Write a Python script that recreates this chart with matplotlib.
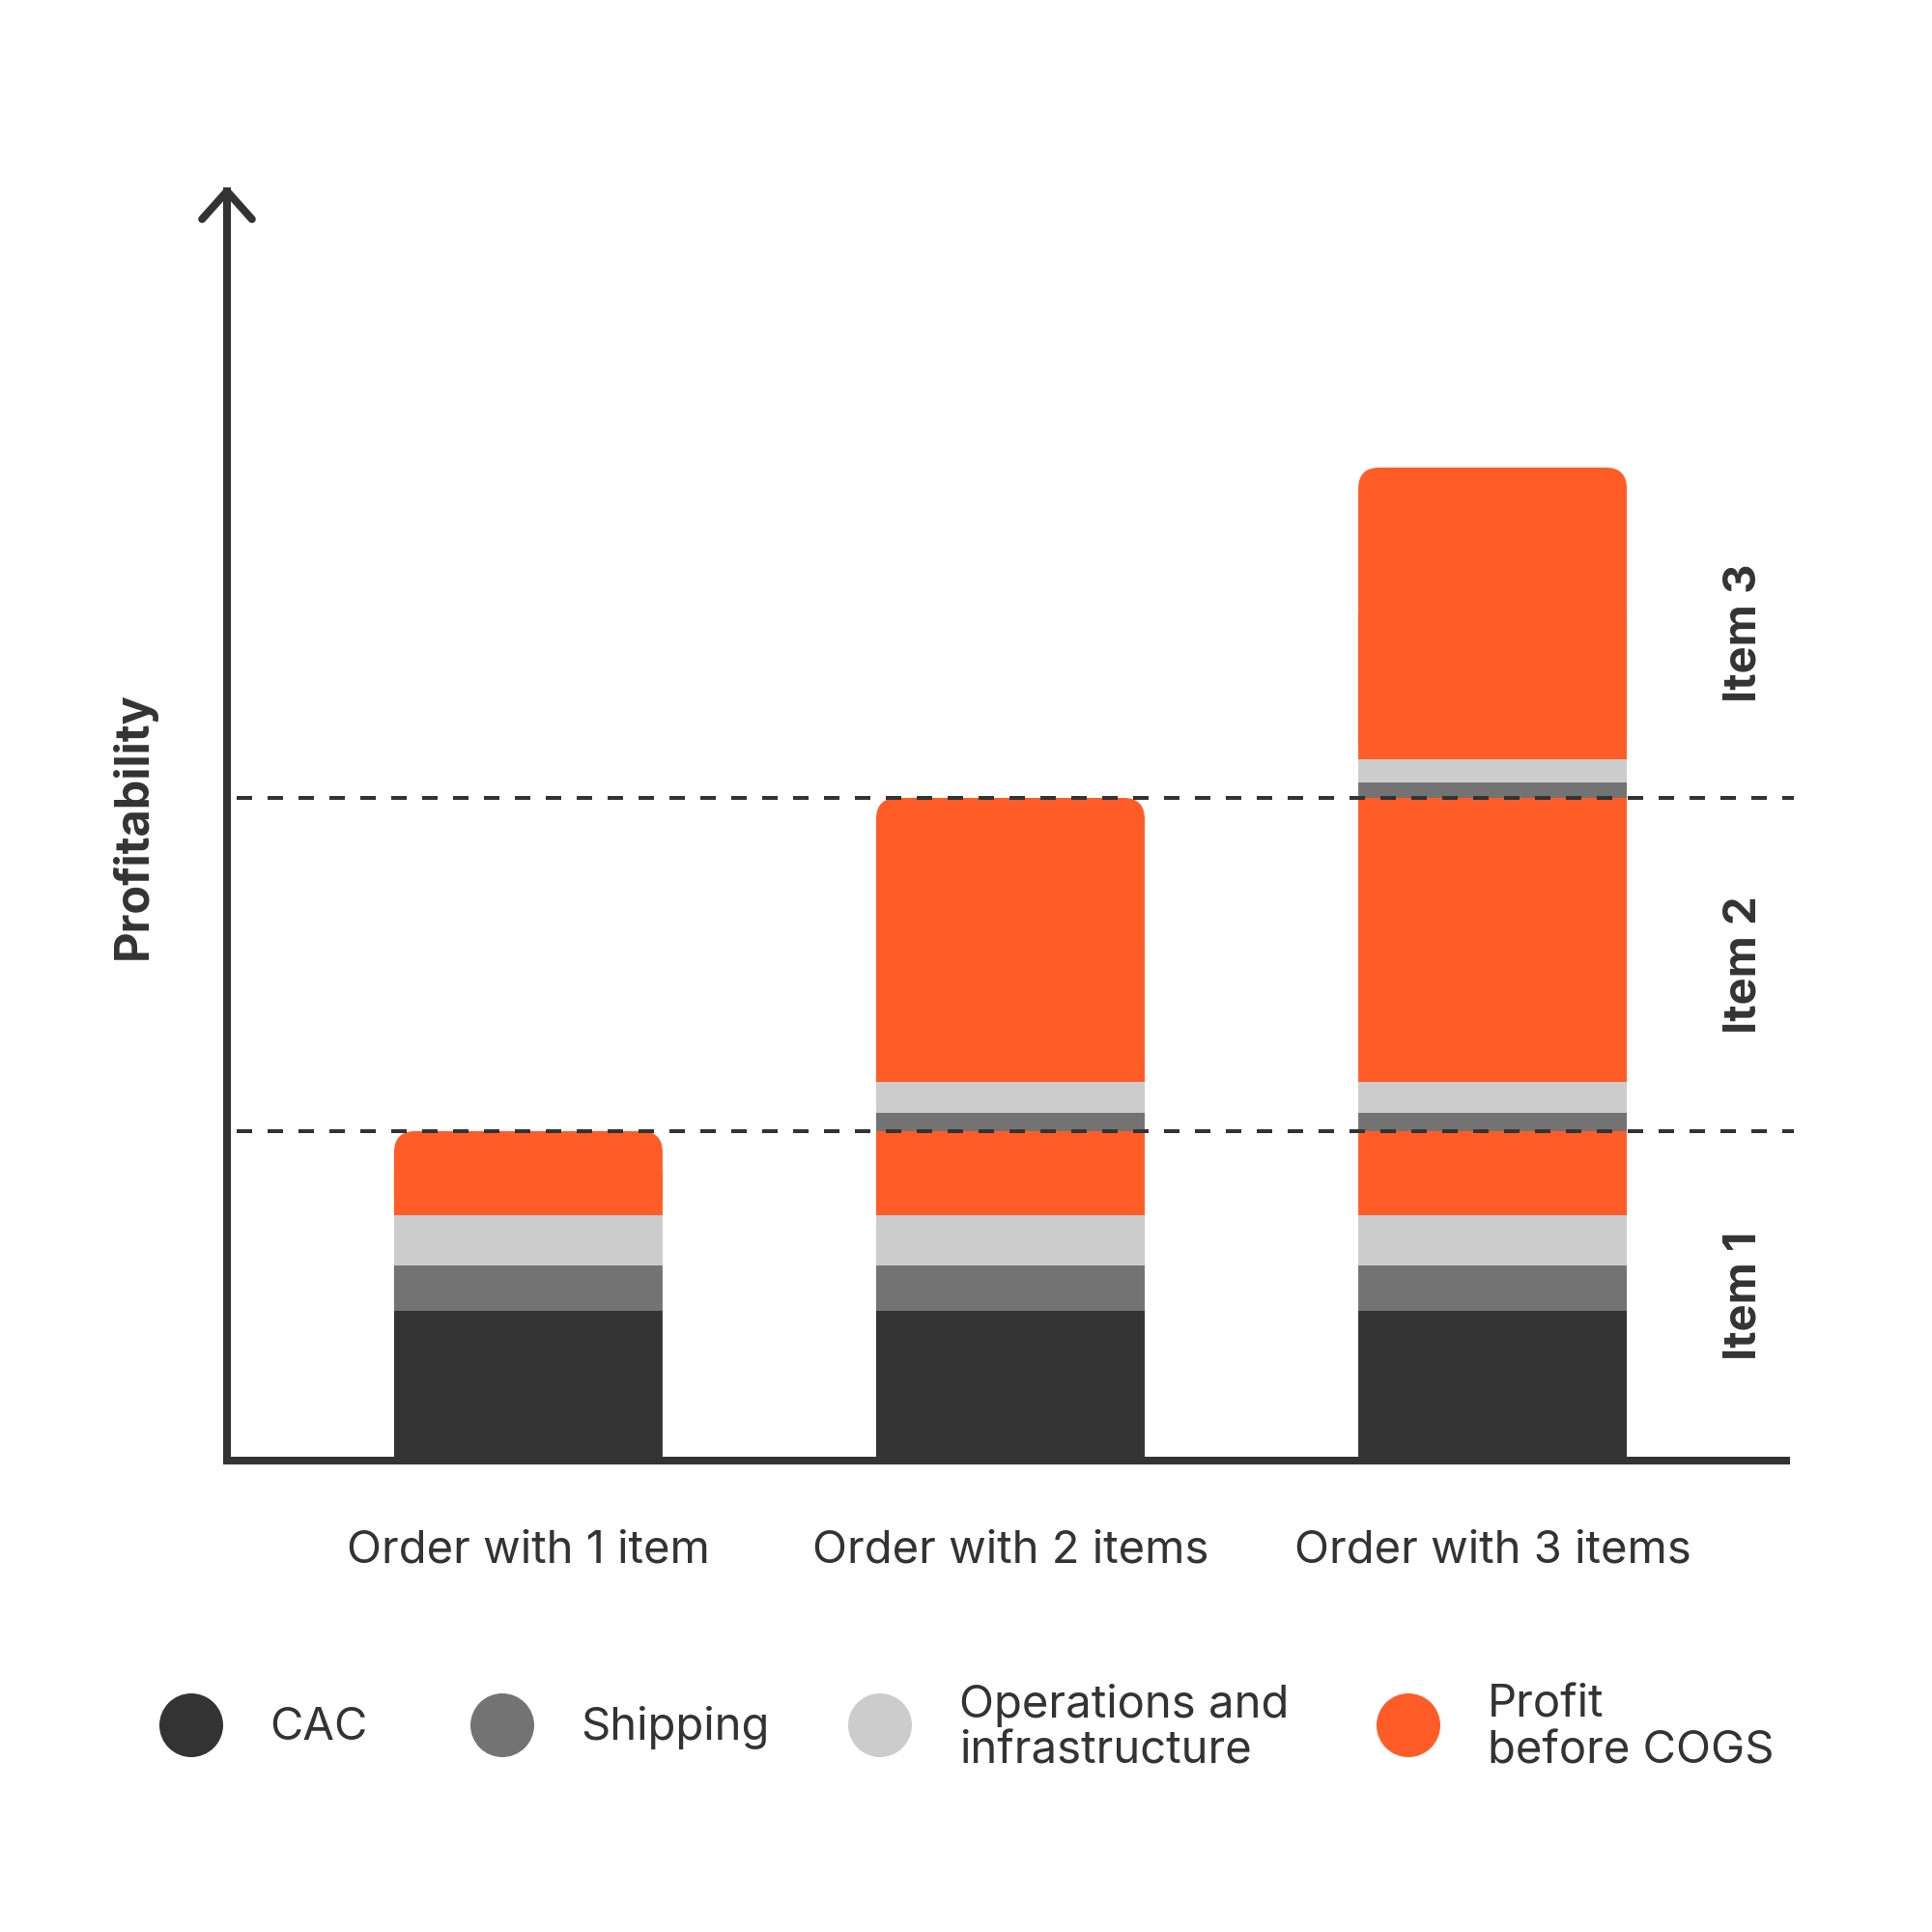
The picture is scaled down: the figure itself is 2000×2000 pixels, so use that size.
#
# Profitability per order: stacked bars, one block per item
#
import matplotlib.pyplot as plt
from matplotlib.patches import FancyBboxPatch, Circle
from matplotlib.transforms import blended_transform_factory

plt.rcParams["font.family"] = ["Inter", "DejaVu Sans"]

categories = ["Order with 1 item", "Order with 2 items", "Order with 3 items"]
segment_names = ["CAC", "Shipping", "Operations and\ninfrastructure", "Profit\nbefore COGS"]
colors = ["#333333", "#737373", "#cccccc", "#ff5c28"]

# segments per item: CAC, shipping, operations, profit
item1 = [155, 47, 52, 87]
item2 = [0, 19, 32, 294]
item3 = [0, 16, 24, 302]
items = [item1, item2, item3]
items_per_order = [1, 2, 3]
item_labels = ["Item 1", "Item 2", "Item 3"]

text_color = "#333333"
W = 2000.0

fig = plt.figure(figsize=(10, 10), dpi=200)
ax = fig.add_axes([235 / W, 488 / W, 1614 / W, 1314 / W])

bar_width = 0.557
radius_x = 0.044
aspect = 499

for i, n in enumerate(items_per_order):
    bottom = 0
    pieces = []
    for k in range(n):
        for j, v in enumerate(items[k]):
            if v > 0:
                pieces.append((j, v))
    for p, (j, v) in enumerate(pieces):
        if p == len(pieces) - 1:
            # rounded top for the last segment
            box = FancyBboxPatch(
                (i - bar_width / 2, bottom), bar_width, v,
                boxstyle=f"round,pad=0,rounding_size={radius_x}",
                mutation_aspect=aspect, fc=colors[j], ec="none", lw=0, zorder=2,
            )
            ax.add_patch(box)
            ax.bar(i, v / 2, bar_width, bottom=bottom, color=colors[j], lw=0,
                   zorder=2, snap=False)
        else:
            ax.bar(i, v, bar_width, bottom=bottom, color=colors[j], lw=0,
                   zorder=2, snap=False)
        bottom += v

# dashed lines at the end of each item
level = 0
mids = []
for k in range(3):
    total = sum(items[k])
    mids.append(level + total / 2)
    level += total
    if k < 2:
        ax.axhline(level, xmin=0.006, xmax=1.005, color=text_color, lw=1.44,
                   dashes=(4, 4), zorder=3, clip_on=False)

ax.set_xlim(-0.625, 2.609)
ax.set_ylim(0, 1314)
ax.set_xticks([])
ax.set_yticks([])
ax.spines["top"].set_visible(False)
ax.spines["right"].set_visible(False)
for s in ["left", "bottom"]:
    ax.spines[s].set_linewidth(2.88)
    ax.spines[s].set_color(text_color)
    ax.spines[s].set_capstyle("projecting")
    ax.spines[s].set_zorder(4)

# arrow head on the y axis
ax.plot([-0.016, 0, 0.016], [0.978, 1, 0.978], transform=ax.transAxes,
        color=text_color, lw=2.88, solid_capstyle="round",
        solid_joinstyle="round", clip_on=False, zorder=5)

# category labels
trans_x = blended_transform_factory(ax.transData, fig.transFigure)
for i, c in enumerate(categories):
    ax.text(i, 1 - 1618 / W, c, ha="center", va="baseline", transform=trans_x,
            fontsize=17, color=text_color)

# item labels on the right
trans_y = blended_transform_factory(fig.transFigure, ax.transData)
for k, lab in enumerate(item_labels):
    ax.text(1805 / W, mids[k], lab, rotation=90, ha="center", va="center",
            transform=trans_y, fontsize=17, fontweight="bold", color=text_color)

fig.text(138 / W, 1 - 855 / W, "Profitability", rotation=90, ha="center",
         va="center", fontsize=17.5, fontweight="bold", color=text_color)

# legend
dot_x = [198, 520, 911, 1458]
label_x = [279, 601, 993, 1540]
for j, name in enumerate(segment_names):
    fig.add_artist(Circle((dot_x[j] / W, 1 - 1786 / W), 33 / W, color=colors[j],
                          transform=fig.transFigure, lw=0))
    lines = name.split("\n")
    if len(lines) == 1:
        baselines = [1801]
    else:
        baselines = [1778, 1826]
    for line, b in zip(lines, baselines):
        fig.text(label_x[j] / W, 1 - b / W, line, ha="left", va="baseline",
                 fontsize=17, color=text_color)

fig.savefig("out.png", dpi=200, facecolor="white")
